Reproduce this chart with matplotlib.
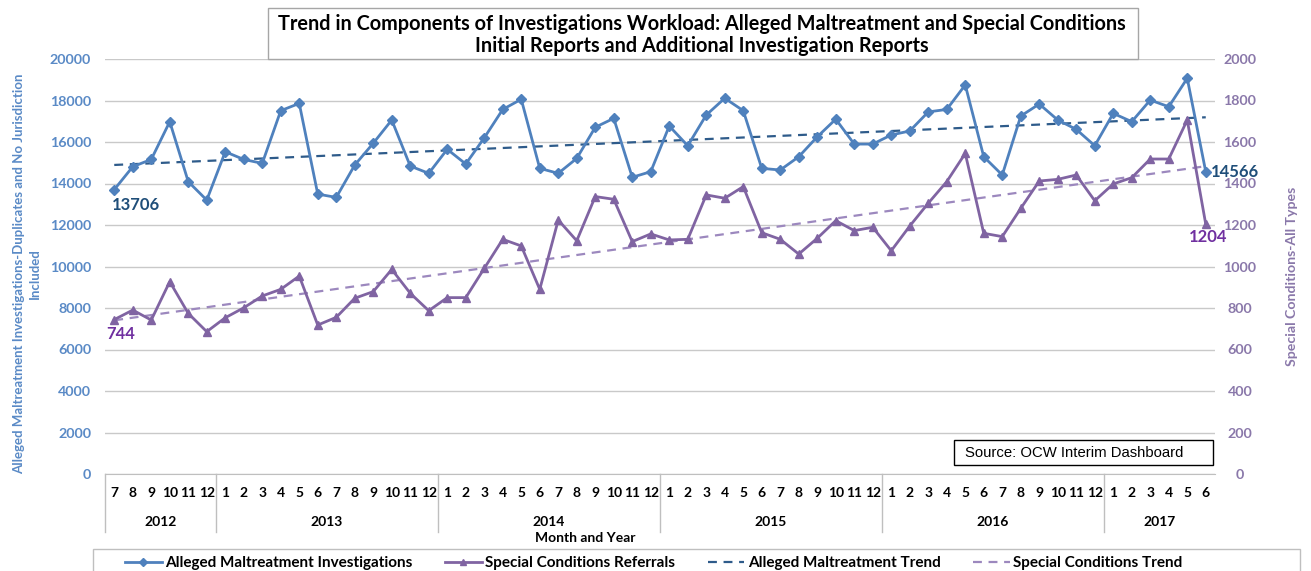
import numpy as np
import matplotlib
matplotlib.use("Agg")
import matplotlib.pyplot as plt
import matplotlib.transforms as mtransforms
from matplotlib.patches import Rectangle
from matplotlib.lines import Line2D

plt.rcParams['font.family'] = ['Lato', 'DejaVu Sans']

# ---------------- data ----------------
years = ["2012", "2013", "2014", "2015", "2016", "2017"]
year_months = [list(range(7, 13)), list(range(1, 13)), list(range(1, 13)),
               list(range(1, 13)), list(range(1, 13)), list(range(1, 7))]

maltreatment = [13706, 14810, 15160, 16980, 14090, 13200,
                15530, 15160, 14970, 17510, 17860, 13490, 13330, 14890, 15940, 17060, 14840, 14490,
                15650, 14940, 16200, 17570, 18060, 14730, 14490, 15210, 16710, 17140, 14300, 14570,
                16770, 15820, 17300, 18110, 17510, 14730, 14650, 15290, 16250, 17100, 15900, 15900,
                16340, 16530, 17450, 17570, 18750, 15290, 14410, 17250, 17830, 17060, 16610, 15820,
                17380, 16980, 18020, 17700, 19070, 14566]

special = [744, 790, 742, 927, 774, 686,
           753, 801, 858, 890, 954, 718, 755, 847, 879, 986, 871, 787,
           850, 850, 991, 1131, 1099, 890, 1224, 1124, 1337, 1324, 1120, 1157,
           1128, 1131, 1345, 1329, 1385, 1163, 1131, 1060, 1136, 1221, 1173, 1189,
           1076, 1195, 1305, 1409, 1545, 1160, 1144, 1280, 1412, 1420, 1441, 1317,
           1398, 1428, 1518, 1518, 1706, 1204]

left_ticks = list(range(0, 20001, 2000))
right_ticks = list(range(0, 2001, 200))

# ---------------- styling ----------------
BLUE = '#4F81BD'
BLUE_TREND = '#2E5B8A'
BLUE_LABEL = '#5A8AC6'
DARK_BLUE = '#1F4E79'
PURPLE = '#8064A2'
PURPLE_TREND = '#9C88BE'
PURPLE_LABEL = '#8A78AA'
DARK_PURPLE = '#7030A0'
GRID = '#C9C9C9'

W, H = 1311, 571
fig = plt.figure(figsize=(W / 100, H / 100), dpi=100)
ax = fig.add_axes([105 / W, 1 - 474 / H, 1110 / W, 415 / H])

n = len(maltreatment)
x = np.arange(n)

ax.set_xlim(-0.5, n - 0.5)
ax.set_ylim(0, 20000)
ax.set_yticks(left_ticks)
ax.set_yticklabels([str(v) for v in left_ticks], fontsize=10.3, fontweight='bold', color=BLUE_LABEL)
ax.tick_params(axis='y', length=0, pad=10)
ax.set_xticks([])
ax.grid(axis='y', color=GRID, lw=1)
ax.set_axisbelow(True)
for s in ['top', 'right', 'left']:
    ax.spines[s].set_visible(False)
ax.spines['bottom'].set_color('#BFBFBF')

# trend lines (least squares fits)
cb = np.polyfit(x, maltreatment, 1)
cp = np.polyfit(x, special, 1)

l1, = ax.plot(x, maltreatment, color=BLUE, lw=2, marker='D', ms=5, zorder=3,
              label='Alleged Maltreatment Investigations')
l3, = ax.plot(x, np.polyval(cb, x), color=BLUE_TREND, lw=1.6, ls=(0, (4, 3)), zorder=2,
              label='Alleged Maltreatment Trend')

ax2 = ax.twinx()
ax2.set_ylim(0, 2000)
ax2.set_yticks(right_ticks)
ax2.set_yticklabels([str(v) for v in right_ticks], fontsize=10.3, fontweight='bold', color=PURPLE_LABEL)
ax2.tick_params(axis='y', length=0, pad=18)
for lbl in ax2.get_yticklabels():
    lbl.set_horizontalalignment('center')
for s in ['top', 'right', 'left', 'bottom']:
    ax2.spines[s].set_visible(False)

l2, = ax2.plot(x, special, color=PURPLE, lw=2, marker='^', ms=6, zorder=3,
               label='Special Conditions Referrals')
l4, = ax2.plot(x, np.polyval(cp, x), color=PURPLE_TREND, lw=1.6, ls=(0, (4, 3)), zorder=2,
               label='Special Conditions Trend')

# data labels
ax.annotate(str(maltreatment[0]), (x[0], maltreatment[0]), xytext=(-2, -7),
            textcoords='offset pixels', ha='left', va='top', fontsize=12, fontweight='bold', color=DARK_BLUE)
ax.annotate(str(maltreatment[-1]), (x[-1], maltreatment[-1]), xytext=(5, 0),
            textcoords='offset pixels', ha='left', va='center', fontsize=12, fontweight='bold', color=DARK_BLUE)
ax2.annotate(str(special[0]), (x[0], special[0]), xytext=(-8, -6),
             textcoords='offset pixels', ha='left', va='top', fontsize=12, fontweight='bold', color=DARK_PURPLE)
ax2.annotate(str(special[-1]), (x[-1], special[-1]), xytext=(2, -5),
             textcoords='offset pixels', ha='center', va='top', fontsize=12, fontweight='bold', color=DARK_PURPLE)

# category axis (months / years)
trans = mtransforms.blended_transform_factory(ax.transData, ax.transAxes)
idx = 0
seps = [-0.5]
for yr, months in zip(years, year_months):
    start = idx
    for m in months:
        ax.text(idx, -0.046, str(m), transform=trans, ha='center', va='center',
                fontsize=10, fontweight='bold', color='black')
        idx += 1
    ax.text((start + idx - 1) / 2, -0.116, yr, transform=trans, ha='center', va='center',
            fontsize=10, fontweight='bold', color='black')
    seps.append(idx - 0.5)
for s in seps[:-1]:
    ax.add_line(Line2D([s, s], [0, -0.14], transform=trans, color='#BFBFBF', lw=1, clip_on=False))

fig.text(585 / W, 1 - 538 / H, 'Month and Year', ha='center', va='center',
         fontsize=10, fontweight='bold', color='black')

# axis titles
fig.text(27 / W, 1 - 274 / H,
         'Alleged Maltreatment Investigations-Duplicates and No Jurisdiction\nIncluded',
         rotation=90, ha='center', va='center', fontsize=9.5, fontweight='bold',
         color=BLUE_LABEL, linespacing=1.45)
fig.text(1292 / W, 1 - 276 / H, 'Special Conditions-All Types', rotation=90,
         ha='center', va='center', fontsize=10.2, fontweight='bold', color=PURPLE_LABEL)

# title box
fig.patches.append(Rectangle((268 / W, 1 - 59 / H), 870 / W, 51 / H, transform=fig.transFigure,
                             fc='white', ec='#A6A6A6', lw=1, zorder=5))
fig.text(702 / W, 1 - 24 / H,
         'Trend in Components of Investigations Workload: Alleged Maltreatment and Special Conditions',
         ha='center', va='center', fontsize=14.3, fontweight='bold', color='black', zorder=6)
fig.text(702 / W, 1 - 46 / H, 'Initial Reports and Additional Investigation Reports',
         ha='center', va='center', fontsize=14.3, fontweight='bold', color='black', zorder=6)

# source box
fig.patches.append(Rectangle((954 / W, 1 - 465 / H), 259 / W, 25 / H, transform=fig.transFigure,
                             fc='white', ec='black', lw=1, zorder=5))
fig.text(1074 / W, 1 - 453 / H, 'Source: OCW Interim Dashboard', ha='center', va='center',
         fontsize=10.7, family=['Liberation Sans', 'DejaVu Sans'], color='black', zorder=6)

# legend
fig.patches.append(Rectangle((93 / W, 1 - 585 / H), 1207 / W, 36 / H, transform=fig.transFigure,
                             fc='white', ec='#BFBFBF', lw=1, zorder=1))
leg = fig.legend(handles=[l1, l2, l3, l4], loc='center left', ncol=4,
                 bbox_to_anchor=(125 / W, 1 - 563 / H), frameon=False,
                 prop=dict(size=11, weight='bold'), handlelength=2.4, columnspacing=2.1,
                 borderpad=0, borderaxespad=0, handletextpad=0.25)
for h in leg.legend_handles:
    h.set_markersize(4)

fig.savefig('out.png', dpi=100)
